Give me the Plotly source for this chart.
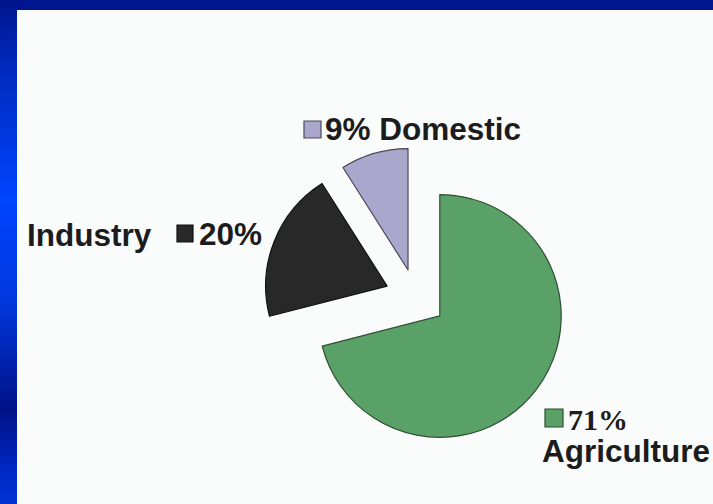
import plotly.graph_objects as go

# Water withdrawal by sector (%)
sectors = ["Agriculture", "Industry", "Domestic"]
shares = [71, 20, 9]
slice_colors = ["#5aa167", "#282828", "#a9a8cc"]
edge_colors = ["#2f4d33", "#111111", "#4a4a5a"]

W, H = 713, 504


def px_x(x):
    return x / W


def px_y(y):
    return 1 - y / H


fig = go.Figure()

fig.add_trace(go.Pie(
    labels=sectors,
    values=shares,
    sort=False,
    direction="clockwise",
    rotation=0,
    pull=[0.248, 0.256, 0.236],
    textinfo="none",
    hoverinfo="label+percent",
    marker=dict(colors=slice_colors, line=dict(color=edge_colors, width=1.2)),
    domain=dict(x=[px_x(263.5), px_x(568.5)], y=[px_y(450), px_y(145)]),
    showlegend=False,
))

shapes = []

# blue slide frame: solid top strip and a vertical gradient along the left
shapes.append(dict(type="rect", xref="paper", yref="paper",
                   x0=0, x1=1, y0=px_y(10), y1=1,
                   fillcolor="#00168e", line=dict(width=0)))

stops = [(0, (0, 20, 140)), (60, (0, 40, 185)), (200, (0, 68, 255)),
         (300, (0, 56, 222)), (410, (0, 18, 135)), (470, (0, 40, 195)),
         (504, (0, 50, 212))]


def band_color(y):
    for (ya, ca), (yb, cb) in zip(stops[:-1], stops[1:]):
        if ya <= y <= yb:
            t = (y - ya) / (yb - ya)
            c = [round(a + (b - a) * t) for a, b in zip(ca, cb)]
            return "rgb({},{},{})".format(*c)
    return "rgb({},{},{})".format(*stops[-1][1])


step = 4
for y in range(0, H, step):
    shapes.append(dict(type="rect", xref="paper", yref="paper",
                       x0=0, x1=px_x(17), y0=px_y(y + step + 0.5), y1=px_y(y),
                       fillcolor=band_color(y + step / 2), line=dict(width=0)))

# legend keys next to each label
keys = [(545, 409, 563, 427, 0), (177, 225, 193, 242, 1), (304, 121, 321, 138, 2)]
for x0, y0, x1, y1, i in keys:
    shapes.append(dict(type="rect", xref="paper", yref="paper",
                       x0=px_x(x0), x1=px_x(x1), y0=px_y(y1), y1=px_y(y0),
                       fillcolor=slice_colors[i], line=dict(color=edge_colors[i], width=1.2)))

sans = "Liberation Sans, Arial, sans-serif"
serif = "Liberation Serif, Times New Roman, serif"
ink = "#1c1c1c"


def label(text, x, y, family=sans, size=31.5):
    return dict(text="<b>" + text + "</b>", xref="paper", yref="paper",
                x=px_x(x), y=px_y(y), xanchor="left", yanchor="middle",
                showarrow=False, font=dict(family=family, size=size, color=ink))


annotations = [
    label("Industry", 25, 235),
    label(f"{shares[1]}%", 197, 234),
    label(f"{shares[2]}% {sectors[2]}", 323, 129),
    label(f"{shares[0]}%", 566, 419, family=serif, size=30),
    label(sectors[0], 540, 451),
]

fig.update_layout(
    width=W, height=H,
    margin=dict(l=0, r=0, t=0, b=0),
    paper_bgcolor="#fafbfb",
    plot_bgcolor="#fafbfb",
    shapes=shapes,
    annotations=annotations,
)

fig.write_html("out.html")
